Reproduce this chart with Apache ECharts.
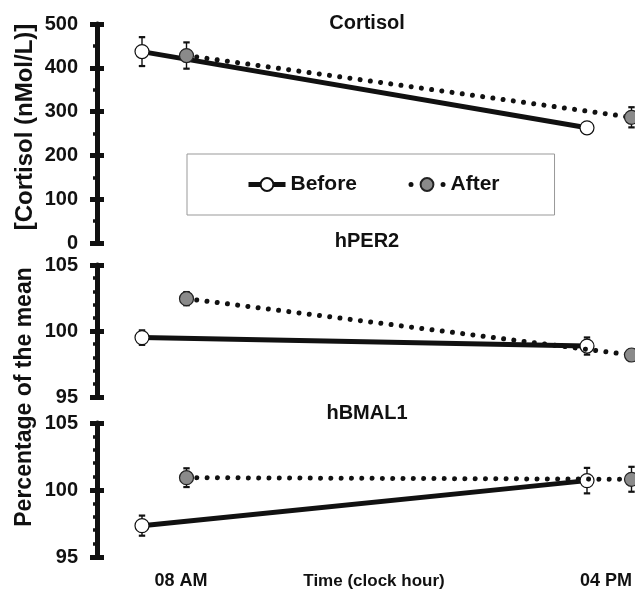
<!DOCTYPE html>
<html><head><meta charset="utf-8">
<script src="https://cdn.jsdelivr.net/npm/echarts@6/dist/echarts.min.js"></script>
<style>html,body{margin:0;padding:0;background:#fff}#c{width:635px;height:591px}</style>
</head><body><div id="c"></div>
<script>
// ---- data ----
const timeLabels = ['08 AM', '04 PM'];
const timeHours = [8, 16];
const groupNames = ['Before', 'After'];
const panelTitles = ['Cortisol', 'hPER2', 'hBMAL1'];
const cortisolBefore = [437, 263];
const cortisolBeforeErr = [33, 8];
const cortisolAfter = [428, 287];
const cortisolAfterErr = [30, 23];
const per2Before = [99.5, 98.86];
const per2BeforeErr = [0.55, 0.65];
const per2After = [102.45, 98.18];
const per2AfterErr = [0.5, 0.4];
const bmal1Before = [97.34, 100.7];
const bmal1BeforeErr = [0.75, 0.95];
const bmal1After = [100.92, 100.8];
const bmal1AfterErr = [0.7, 0.93];
const cortisolAxis = {min: 0, max: 500, interval: 100, minorSplit: 2};
const pctAxis = {min: 95, max: 105, interval: 5, minorSplit: 5};
const yNameCortisol = '[Cortisol (nMol/L)]';
const yNamePct = 'Percentage of the mean';
const xName = 'Time (clock hour)';

// ---- layout ----
const FONT = '"Liberation Sans", Arial, Helvetica, sans-serif';
const AFTER_SHIFT = 0.8;           // horizontal dodge of the After series
const X_MIN = 7.191, X_MAX = 16.863;
const X_LABEL_AT = [8.70, 16.34];
const grids = [
  {left: 97, right: 0, top: 24, height: 219, outerBoundsMode: 'none'},
  {left: 97, right: 0, top: 265, height: 132, outerBoundsMode: 'none'},
  {left: 97, right: 0, top: 423, height: 134, outerBoundsMode: 'none'}
];
const panels = [
  {title: panelTitles[0], ax: cortisolAxis, b: cortisolBefore, be: cortisolBeforeErr, a: cortisolAfter, ae: cortisolAfterErr, ty: 23},
  {title: panelTitles[1], ax: pctAxis, b: per2Before, be: per2BeforeErr, a: per2After, ae: per2AfterErr, ty: 241},
  {title: panelTitles[2], ax: pctAxis, b: bmal1Before, be: bmal1BeforeErr, a: bmal1After, ae: bmal1AfterErr, ty: 413}
];
const DOT = [0.01, 10.3];

function errRender(params, api) {
  const x = api.value(0), y = api.value(1), e = api.value(2);
  const top = api.coord([x, y + e]);
  const bot = api.coord([x, y - e]);
  const hw = 3.2;
  const st = {stroke: '#111', lineWidth: 1.4};
  const cap = {stroke: '#111', lineWidth: 2.2};
  return {type: 'group', children: [
    {type: 'line', shape: {x1: top[0], y1: top[1], x2: bot[0], y2: bot[1]}, style: st},
    {type: 'line', shape: {x1: top[0] - hw, y1: top[1], x2: top[0] + hw, y2: top[1]}, style: cap},
    {type: 'line', shape: {x1: bot[0] - hw, y1: bot[1], x2: bot[0] + hw, y2: bot[1]}, style: cap}
  ]};
}

const xAxes = [], yAxes = [], series = [];
panels.forEach((p, i) => {
  const last = i === panels.length - 1;
  xAxes.push({
    type: 'value', gridIndex: i, min: X_MIN, max: X_MAX,
    axisLine: {show: false}, axisTick: {show: false}, splitLine: {show: false},
    axisLabel: last ? {
      show: true, customValues: X_LABEL_AT, margin: 15,
      formatter: v => timeLabels[v < 12 ? 0 : 1],
      fontSize: 18, fontWeight: 'bold', color: '#111', fontFamily: FONT, verticalAlign: 'top'
    } : {show: false},
    name: last ? xName : '', nameLocation: 'middle', nameGap: 16, nameMoveOverlap: false,
    nameTextStyle: {fontSize: 17, fontWeight: 'bold', color: '#111', fontFamily: FONT, verticalAlign: 'top', padding: [0, 0, 0, 16]}
  });
  // main axis: line, outside ticks, minor ticks, labels
  yAxes.push({
    type: 'value', gridIndex: i, position: 'left', min: p.ax.min, max: p.ax.max, interval: p.ax.interval,
    axisLine: {show: true, lineStyle: {color: '#111', width: 5}},
    axisTick: {show: true, length: 7, lineStyle: {color: '#111', width: 5}},
    minorTick: {show: true, splitNumber: p.ax.minorSplit, length: 4, lineStyle: {color: '#111', width: 3.5}},
    splitLine: {show: false},
    axisLabel: {fontSize: 20, fontWeight: 'bold', color: '#111', margin: 19, fontFamily: FONT}
  });
  // overlay axis: inside part of the crossing major ticks
  yAxes.push({
    type: 'value', gridIndex: i, position: 'left', offset: 0, min: p.ax.min, max: p.ax.max, interval: p.ax.interval,
    axisLine: {show: false},
    axisTick: {show: true, inside: true, length: 7, lineStyle: {color: '#111', width: 5}},
    splitLine: {show: false}, axisLabel: {show: false}
  });
  const errData = [];
  timeHours.forEach((h, k) => {
    errData.push([h, p.b[k], p.be[k]]);
    errData.push([h + AFTER_SHIFT, p.a[k], p.ae[k]]);
  });
  series.push({
    type: 'custom', name: 'err' + i, xAxisIndex: i, yAxisIndex: 2 * i, z: 1,
    renderItem: errRender, data: errData, silent: true
  });
  series.push({
    type: 'line', name: groupNames[0], xAxisIndex: i, yAxisIndex: 2 * i, z: 3,
    data: timeHours.map((h, k) => [h, p.b[k]]),
    symbol: 'circle', symbolSize: 14, clip: false,
    itemStyle: {color: '#fff', borderColor: '#111', borderWidth: 1.2},
    lineStyle: {color: '#111', width: 5}
  });
  series.push({
    type: 'line', name: groupNames[1], xAxisIndex: i, yAxisIndex: 2 * i, z: 4,
    data: timeHours.map((h, k) => [h + AFTER_SHIFT, p.a[k]]),
    symbol: 'circle', symbolSize: 14, clip: false,
    itemStyle: {color: '#8a8a8a', borderColor: '#222', borderWidth: 1.2},
    lineStyle: {color: '#111', width: 5, type: DOT, cap: 'round'}
  });
});

const graphics = panels.map(p => ({
  type: 'text', x: 367, y: p.ty,
  style: {text: p.title, fill: '#111', font: 'bold 20px ' + FONT, align: 'center', verticalAlign: 'middle'}
}));
graphics.push({
  type: 'text', x: 25, y: 127, rotation: Math.PI / 2,
  style: {text: yNameCortisol, fill: '#111', font: 'bold 24px ' + FONT, align: 'center', verticalAlign: 'middle'}
});
graphics.push({
  type: 'text', x: 25, y: 397, rotation: Math.PI / 2,
  style: {text: yNamePct, fill: '#111', font: 'bold 23px ' + FONT, align: 'center', verticalAlign: 'middle'}
});

const chart = echarts.init(document.getElementById('c'), null, {renderer: 'canvas'});
chart.setOption({
  animation: false,
  backgroundColor: '#fff',
  grid: grids,
  xAxis: xAxes,
  yAxis: yAxes,
  legend: {
    data: [
      {name: groupNames[0], lineStyle: {width: 5}},
      {name: groupNames[1], lineStyle: {width: 5, type: [0.01, 16], cap: 'round', dashOffset: -2.5}}
    ],
    left: 187, top: 154,
    padding: [20, 55, 20, 59], itemGap: 49, itemWidth: 37, itemHeight: 16,
    borderColor: '#999', borderWidth: 1,
    textStyle: {fontSize: 21, fontWeight: 'bold', color: '#111', fontFamily: FONT}
  },
  graphic: graphics,
  series: series
});
</script></body></html>
